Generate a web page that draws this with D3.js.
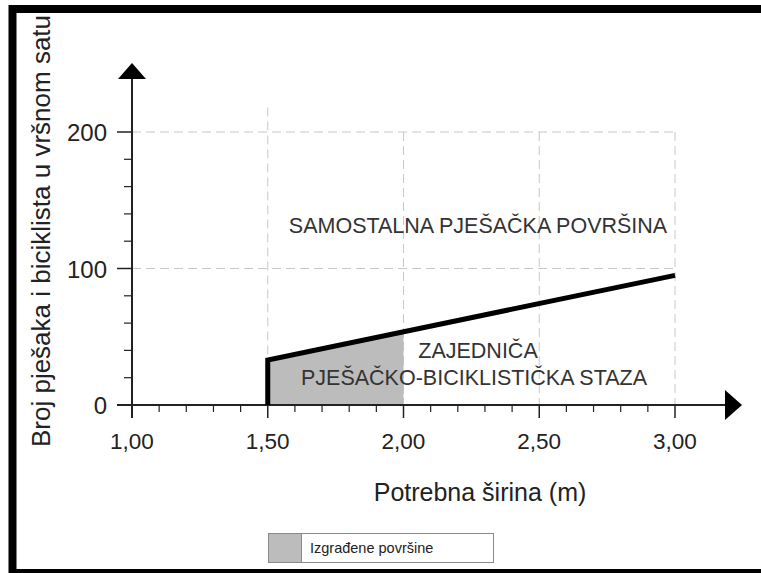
<!DOCTYPE html>
<html><head><meta charset="utf-8">
<script src="https://cdn.jsdelivr.net/npm/d3@7"></script>
<style>body{margin:0;background:#fff}svg{display:block;font-family:"Liberation Sans",Arial,sans-serif}</style>
</head><body><svg id="c" width="761" height="573"></svg>
<script>
// ---- data ----
const xTickValues = [1.0, 1.5, 2.0, 2.5, 3.0];
const xTickLabels = ["1,00", "1,50", "2,00", "2,50", "3,00"];
const yTickValues = [0, 100, 200];
const yTickLabels = ["0", "100", "200"];
const boundaryX = [1.5, 1.5, 3.0];
const boundaryY = [0, 33, 95];
const builtX = [1.5, 2.0];
const builtY = [33, 53];
const xTitle = "Potrebna širina (m)";
const yTitle = "Broj pješaka i biciklista u vršnom satu";
const upperLabel = "SAMOSTALNA PJEŠAČKA POVRŠINA";
const lowerLabel = ["ZAJEDNIČA", "PJEŠAČKO-BICIKLISTIČKA STAZA"];
const legendLabel = "Izgrađene površine";

const svg = d3.select("#c");
const x = d3.scaleLinear().domain([1, 3]).range([132, 675]);
const y = d3.scaleLinear().domain([0, 200]).range([405, 132]);

// frame
svg.append("rect").attr("x", 12.5).attr("y", 9).attr("width", 800).attr("height", 564)
  .attr("fill", "none").attr("stroke", "#000").attr("stroke-width", 8);

// grid
const grid = svg.append("g").attr("stroke", "#c8c8c8").attr("stroke-width", 1)
  .attr("stroke-dasharray", "9,5").attr("fill", "none");
[100, 200].forEach(v => grid.append("line").attr("x1", x(1)).attr("x2", x(3))
  .attr("y1", y(v)).attr("y2", y(v)));
xTickValues.slice(1).forEach(v => grid.append("line").attr("x1", x(v)).attr("x2", x(v))
  .attr("y1", v === 1.5 ? y(218) : y(200)).attr("y2", y(0)));

// built area
const area = d3.area().x((d, i) => x(builtX[i])).y0(y(0)).y1((d, i) => y(builtY[i]));
svg.append("path").attr("d", area(builtX)).attr("fill", "#bcbcbc");

// axes
const ax = svg.append("g").attr("stroke", "#222").attr("stroke-width", 2);
ax.append("line").attr("x1", x(1)).attr("x2", x(1)).attr("y1", 78).attr("y2", y(0) + 13);
ax.append("line").attr("x1", x(1) - 15).attr("x2", 727).attr("y1", y(0)).attr("y2", y(0));
svg.append("path").attr("d", `M${x(1)},63L${x(1) - 14},79L${x(1) + 14},79Z`).attr("fill", "#000");
svg.append("path").attr("d", `M742,${y(0)}L725,${y(0) - 15}L725,${y(0) + 15}Z`).attr("fill", "#000");

// y ticks
d3.range(0, 201, 20).forEach(v => {
  const major = v % 100 === 0;
  ax.append("line").attr("x1", x(1) - (major ? 15 : 8)).attr("x2", x(1))
    .attr("y1", y(v)).attr("y2", y(v)).attr("stroke-width", major ? 1.5 : 1.2);
});
// x ticks
d3.range(10, 31, 1).forEach(k => {
  const v = k / 10;
  const major = k % 5 === 0;
  ax.append("line").attr("x1", x(v)).attr("x2", x(v))
    .attr("y1", y(0)).attr("y2", y(0) + (major ? 13 : 7)).attr("stroke-width", major ? 1.5 : 1.2);
});

// tick labels
svg.selectAll(".yl").data(yTickValues).enter().append("text")
  .attr("x", 107).attr("y", d => y(d) + 9).attr("text-anchor", "end")
  .attr("font-size", 24).attr("fill", "#222").text((d, i) => yTickLabels[i]);
svg.selectAll(".xl").data(xTickValues).enter().append("text")
  .attr("x", d => x(d)).attr("y", 449).attr("text-anchor", "middle")
  .attr("font-size", 22.5).attr("fill", "#222").text((d, i) => xTickLabels[i]);

// boundary line
const line = d3.line().x((d, i) => x(boundaryX[i])).y((d, i) => y(boundaryY[i]));
svg.append("path").attr("d", line(boundaryX)).attr("fill", "none").attr("stroke", "#000")
  .attr("stroke-width", 5).attr("stroke-linejoin", "miter");

// titles
svg.append("text").attr("transform", "translate(50,231) rotate(-90)")
  .attr("text-anchor", "middle").attr("font-size", 26).attr("fill", "#222").text(yTitle);
svg.append("text").attr("x", 480).attr("y", 501).attr("text-anchor", "middle")
  .attr("font-size", 25).attr("fill", "#222").text(xTitle);

// region labels
svg.append("text").attr("x", 478).attr("y", 233).attr("text-anchor", "middle")
  .attr("font-size", 21.5).attr("fill", "#333").text(upperLabel);
svg.append("text").attr("x", 478).attr("y", 358).attr("text-anchor", "middle")
  .attr("font-size", 21.5).attr("fill", "#333").text(lowerLabel[0]);
svg.append("text").attr("x", 474).attr("y", 385).attr("text-anchor", "middle")
  .attr("font-size", 21.5).attr("fill", "#333").text(lowerLabel[1]);

// legend
const lg = svg.append("g");
lg.append("rect").attr("x", 268.5).attr("y", 533.5).attr("width", 225).attr("height", 29)
  .attr("fill", "#fff").attr("stroke", "#8a8a8a");
lg.append("rect").attr("x", 268.5).attr("y", 533.5).attr("width", 33).attr("height", 29)
  .attr("fill", "#bcbcbc").attr("stroke", "#8a8a8a");
lg.append("text").attr("x", 310).attr("y", 553).attr("font-size", 14.5).attr("fill", "#222").text(legendLabel);
</script></body></html>
